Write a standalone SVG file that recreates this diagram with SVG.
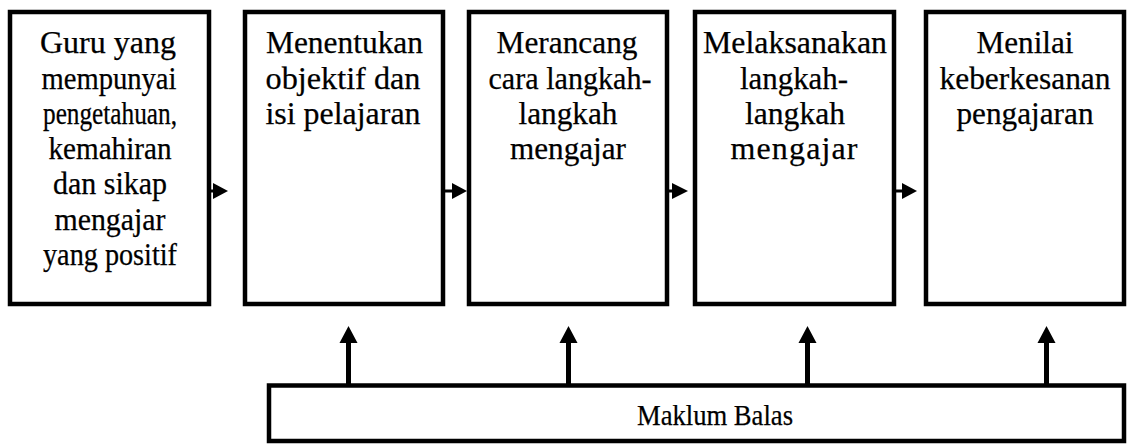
<svg xmlns="http://www.w3.org/2000/svg" width="1127" height="445" viewBox="0 0 1127 445">
  <style>
    .box { fill: #ffffff; stroke: #000000; stroke-width: 4.5; }
    .lbl { font-family: "Liberation Serif", "Times New Roman", serif; font-size: 32px; fill: #000000; stroke: #000000; stroke-width: 0.25; text-anchor: middle; }
    .small { font-size: 31px; }
    .shaft { stroke: #000000; fill: none; }
    .head { fill: #000000; }
  </style>
  <rect width="1127" height="445" fill="#ffffff"/>

  <!-- step 1 -->
  <g id="node-guru">
    <rect class="box" x="10" y="12" width="199" height="292"/>
    <text class="lbl small" x="108" y="53" textLength="136" lengthAdjust="spacingAndGlyphs">Guru yang</text>
    <text class="lbl small" x="109" y="88.5" textLength="135" lengthAdjust="spacingAndGlyphs">mempunyai</text>
    <text class="lbl small" x="110" y="123.5" textLength="134" lengthAdjust="spacingAndGlyphs">pengetahuan,</text>
    <text class="lbl small" x="110" y="159" textLength="123" lengthAdjust="spacingAndGlyphs">kemahiran</text>
    <text class="lbl small" x="110" y="194" textLength="114" lengthAdjust="spacingAndGlyphs">dan sikap</text>
    <text class="lbl small" x="110" y="229.5" textLength="111" lengthAdjust="spacingAndGlyphs">mengajar</text>
    <text class="lbl small" x="110" y="264.5" textLength="134" lengthAdjust="spacingAndGlyphs">yang positif</text>
  </g>

  <!-- step 2 -->
  <g id="node-objektif">
    <rect class="box" x="245" y="12" width="198" height="292"/>
    <text class="lbl" x="344.5" y="53" textLength="157" lengthAdjust="spacingAndGlyphs">Menentukan</text>
    <text class="lbl" x="343" y="88.5" textLength="155" lengthAdjust="spacingAndGlyphs">objektif dan</text>
    <text class="lbl" x="343" y="123.5" textLength="155" lengthAdjust="spacingAndGlyphs">isi pelajaran</text>
  </g>

  <!-- step 3 -->
  <g id="node-merancang">
    <rect class="box" x="469" y="12" width="198" height="292"/>
    <text class="lbl" x="567" y="53" textLength="141" lengthAdjust="spacingAndGlyphs">Merancang</text>
    <text class="lbl" x="570" y="88.5" textLength="163" lengthAdjust="spacingAndGlyphs">cara langkah-</text>
    <text class="lbl" x="568" y="123.5" textLength="99" lengthAdjust="spacingAndGlyphs">langkah</text>
    <text class="lbl" x="568" y="159" textLength="116" lengthAdjust="spacingAndGlyphs">mengajar</text>
  </g>

  <!-- step 4 -->
  <g id="node-melaksanakan">
    <rect class="box" x="695" y="12" width="199" height="292"/>
    <text class="lbl" x="795" y="53" textLength="184" lengthAdjust="spacingAndGlyphs">Melaksanakan</text>
    <text class="lbl" x="794" y="88.5" textLength="108" lengthAdjust="spacingAndGlyphs">langkah-</text>
    <text class="lbl" x="795" y="123.5" textLength="100" lengthAdjust="spacingAndGlyphs">langkah</text>
    <text class="lbl" x="794" y="159" textLength="127">mengajar</text>
  </g>

  <!-- step 5 -->
  <g id="node-menilai">
    <rect class="box" x="926" y="12" width="198" height="292"/>
    <text class="lbl" x="1025" y="53" textLength="97" lengthAdjust="spacingAndGlyphs">Menilai</text>
    <text class="lbl" x="1025" y="88.5" textLength="171" lengthAdjust="spacingAndGlyphs">keberkesanan</text>
    <text class="lbl" x="1025" y="123.5" textLength="137" lengthAdjust="spacingAndGlyphs">pengajaran</text>
  </g>

  <!-- feedback bar -->
  <g id="node-maklum-balas">
    <rect class="box" x="269" y="385.5" width="855" height="55.5"/>
    <text class="lbl" x="715" y="425" style="font-size:30px" textLength="156" lengthAdjust="spacingAndGlyphs">Maklum Balas</text>
  </g>

  <!-- connectors -->
  <g id="connectors">
    <!-- forward flow between steps -->
    <line class="shaft" x1="211" y1="191" x2="214" y2="191" stroke-width="3"/>
    <polygon class="head" points="213,183 228,191 213,199"/>
    <line class="shaft" x1="445" y1="191" x2="453" y2="191" stroke-width="3"/>
    <polygon class="head" points="452,183 467,191 452,199"/>
    <line class="shaft" x1="669" y1="191" x2="673" y2="191" stroke-width="3"/>
    <polygon class="head" points="672,183 688,191 672,199"/>
    <line class="shaft" x1="896" y1="191" x2="903" y2="191" stroke-width="3"/>
    <polygon class="head" points="902,183 917,191 902,199"/>

    <!-- feedback up into steps 2-5 -->
    <line class="shaft" x1="348.5" y1="384" x2="348.5" y2="342" stroke-width="5"/>
    <polygon class="head" points="339.5,343 348.5,326 357.5,343"/>
    <line class="shaft" x1="568.5" y1="384" x2="568.5" y2="342" stroke-width="5"/>
    <polygon class="head" points="559.5,343 568.5,326 577.5,343"/>
    <line class="shaft" x1="807.5" y1="384" x2="807.5" y2="342" stroke-width="5"/>
    <polygon class="head" points="798.5,343 807.5,326 816.5,343"/>
    <line class="shaft" x1="1046.5" y1="384" x2="1046.5" y2="342" stroke-width="5"/>
    <polygon class="head" points="1037.5,343 1046.5,326 1055.5,343"/>
  </g>
</svg>
